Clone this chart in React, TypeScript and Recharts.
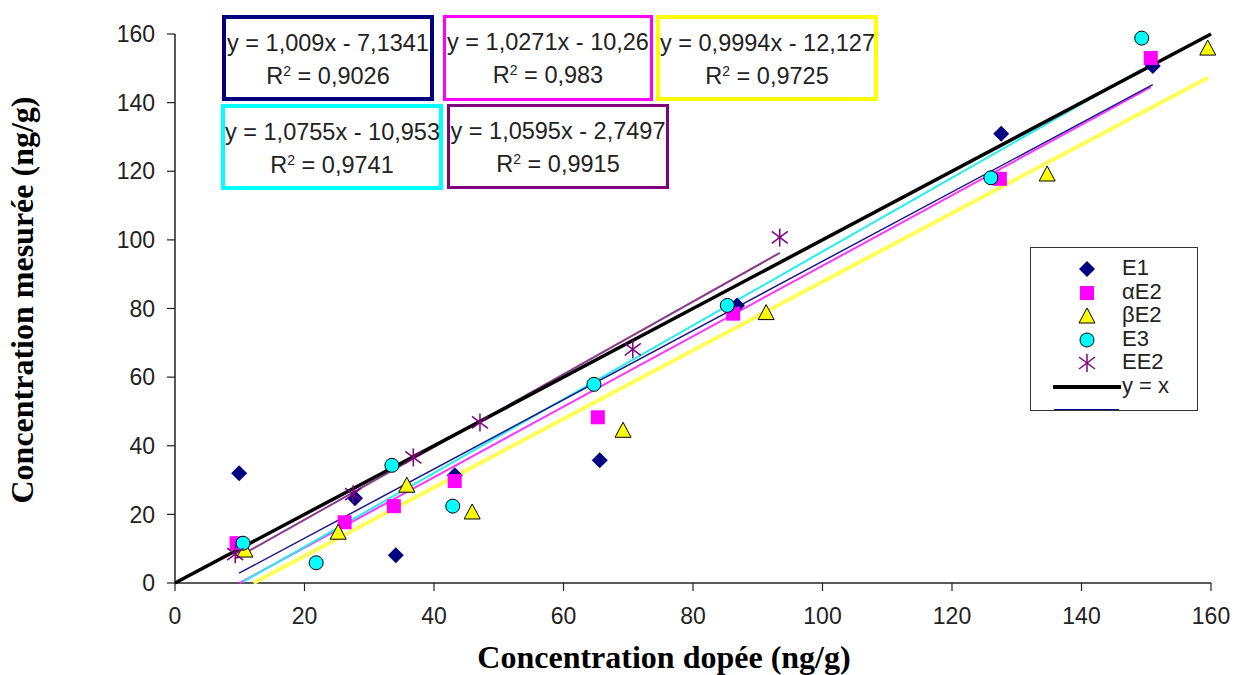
import React from 'react';
import { ScatterChart, Scatter, XAxis, YAxis } from 'recharts';

// axis ticks
const xTicks = [0, 20, 40, 60, 80, 100, 120, 140, 160];
const yTicks = [0, 20, 40, 60, 80, 100, 120, 140, 160];

const e1X = [9.9, 27.8, 34.1, 43.2, 65.6, 86.8, 127.6, 151.0];
const e1Y = [32.0, 24.7, 8.1, 31.4, 35.8, 80.9, 130.9, 150.7];

const ae2X = [9.5, 26.2, 33.8, 43.2, 65.3, 86.2, 127.4, 150.7];
const ae2Y = [11.6, 17.7, 22.4, 29.7, 48.3, 78.5, 117.8, 153.0];

const be2X = [10.8, 25.2, 35.8, 45.9, 69.2, 91.3, 134.7, 159.5];
const be2Y = [9.6, 14.8, 28.5, 20.7, 44.5, 78.8, 119.2, 155.9];

const e3X = [10.5, 21.8, 33.5, 42.9, 64.7, 85.3, 126.0, 149.3];
const e3Y = [11.6, 5.9, 34.3, 22.4, 57.9, 80.9, 118.1, 158.8];

const ee2X = [9.3, 27.5, 36.8, 47.1, 70.7, 93.4];
const ee2Y = [8.4, 25.9, 36.6, 46.8, 68.1, 100.7];

// linear trendlines shown in the boxes
const seriesNames = ['E1', 'αE2', 'βE2', 'E3', 'EE2'];
const slopes = [1.009, 1.0271, 0.9994, 1.0755, 1.0595];
const intercepts = [-7.1341, -10.26, -12.127, -10.953, -2.7497];
const slopeLabels = ['1,009', '1,0271', '0,9994', '1,0755', '1,0595'];
const interceptLabels = ['7,1341', '10,26', '12,127', '10,953', '2,7497'];
const r2Labels = ['0,9026', '0,983', '0,9725', '0,9741', '0,9915'];

const identityX = [0, 160];

const colors = ['#000080', '#FF00FF', '#FFFF00', '#00FFFF', '#800080'];
const trendColors = ['#1a1a8c', '#ff33ff', '#ffff55', '#22eeee', '#8a3c8a'];
const trendWidths = [1.5, 2, 4, 2, 2];

const xsAll = [e1X, ae2X, be2X, e3X, ee2X];
const ysAll = [e1Y, ae2Y, be2Y, e3Y, ee2Y];

const toPoints = (xs: number[], ys: number[]) => xs.map((x, i) => ({ x, y: ys[i] }));

// trendline over the series' x range, cut where it crosses the x axis
const trendData = (i: number) => {
  const xs = xsAll[i];
  const lo = Math.max(Math.min(...xs), -intercepts[i] / slopes[i]);
  const hi = Math.max(...xs);
  return [lo, hi].map((x) => ({ x, y: slopes[i] * x + intercepts[i] }));
};

const Diamond = ({ cx, cy }: any) => (
  <path d={`M${cx},${cy - 8} L${cx + 8},${cy} L${cx},${cy + 8} L${cx - 8},${cy} Z`} fill="#000080" />
);
const Square = ({ cx, cy }: any) => (
  <rect x={cx - 7} y={cy - 7} width={14} height={14} fill="#FF00FF" />
);
const Triangle = ({ cx, cy }: any) => (
  <path d={`M${cx},${cy - 8} L${cx + 8},${cy + 7} L${cx - 8},${cy + 7} Z`} fill="#FFFF00" stroke="#000" strokeWidth={1} />
);
const Circle = ({ cx, cy }: any) => (
  <circle cx={cx} cy={cy} r={7} fill="#00FFFF" stroke="#000" strokeWidth={1} />
);
const Star = ({ cx, cy }: any) => (
  <g stroke="#800080" strokeWidth={1.5}>
    <line x1={cx} y1={cy - 9} x2={cx} y2={cy + 9} />
    <line x1={cx - 8} y1={cy - 6} x2={cx + 8} y2={cy + 6} />
    <line x1={cx - 8} y1={cy + 6} x2={cx + 8} y2={cy - 6} />
  </g>
);
const NoDot = () => <g />;

const shapes = [Diamond, Square, Triangle, Circle, Star];

const eqBoxes = [
  { i: 0, left: 222, top: 15, width: 212, height: 86, border: 4 },
  { i: 1, left: 443, top: 15, width: 210, height: 86, border: 3 },
  { i: 2, left: 656, top: 15, width: 222, height: 86, border: 4 },
  { i: 3, left: 221, top: 104, width: 222, height: 86, border: 4 },
  { i: 4, left: 447, top: 104, width: 222, height: 85, border: 3 },
];

const sans = '"Liberation Sans", Arial, sans-serif';
const serif = '"Liberation Serif", "Times New Roman", serif';

function LegendMarker({ i }: { i: number }) {
  const Shape = shapes[i];
  return (
    <svg width={24} height={22} style={{ position: 'absolute', left: 44, top: 0 }}>
      <Shape cx={12} cy={11} />
    </svg>
  );
}

export default function App() {
  return (
    <div style={{ position: 'absolute', left: 0, top: 0, width: 1235, height: 675, background: '#fff' }}>
      <ScatterChart width={1235} height={675} margin={{ top: 34, right: 24, left: 115, bottom: 42 }}>
        <XAxis
          type="number"
          dataKey="x"
          domain={[0, 160]}
          ticks={xTicks}
          height={50}
          tickSize={8}
          tickMargin={17}
          axisLine={{ stroke: '#222', strokeWidth: 1.5 }}
          tickLine={{ stroke: '#222', strokeWidth: 1.2 }}
          tick={{ fontSize: 23, fill: '#222', fontFamily: sans }}
        />
        <YAxis
          type="number"
          dataKey="y"
          domain={[0, 160]}
          ticks={yTicks}
          width={60}
          tickSize={8}
          tickMargin={12}
          axisLine={{ stroke: '#222', strokeWidth: 1.5 }}
          tickLine={{ stroke: '#222', strokeWidth: 1.2 }}
          tick={{ fontSize: 23, fill: '#222', fontFamily: sans }}
        />
        {[2, 1, 3, 0, 4].map((i) => (
          <Scatter
            key={'trend' + i}
            name={seriesNames[i] + ' trend'}
            data={trendData(i)}
            line={{ stroke: trendColors[i], strokeWidth: trendWidths[i] }}
            shape={NoDot}
            legendType="none"
            isAnimationActive={false}
          />
        ))}
        <Scatter
          name="y = x"
          data={toPoints(identityX, identityX)}
          line={{ stroke: '#000', strokeWidth: 3.5 }}
          shape={NoDot}
          isAnimationActive={false}
        />
        {shapes.map((Shape, i) => (
          <Scatter
            key={seriesNames[i]}
            name={seriesNames[i]}
            data={toPoints(xsAll[i], ysAll[i])}
            fill={colors[i]}
            shape={(p: any) => <Shape cx={p.cx} cy={p.cy} />}
            isAnimationActive={false}
          />
        ))}
      </ScatterChart>

      {eqBoxes.map((b) => (
        <div
          key={b.i}
          style={{
            position: 'absolute',
            left: b.left,
            top: b.top,
            width: b.width,
            height: b.height,
            boxSizing: 'border-box',
            border: `${b.border}px solid ${colors[b.i]}`,
            background: '#fff',
            fontFamily: sans,
            fontSize: 23.5,
            color: '#222',
            textAlign: 'center',
            lineHeight: '33px',
            paddingTop: 8,
            whiteSpace: 'nowrap',
          }}
        >
          <div>y = {slopeLabels[b.i]}x - {interceptLabels[b.i]}</div>
          <div>
            R<sup style={{ fontSize: 14, verticalAlign: 'top', lineHeight: '22px' }}>2</sup> = {r2Labels[b.i]}
          </div>
        </div>
      ))}

      <div
        style={{
          position: 'absolute',
          left: 1030,
          top: 247,
          width: 168,
          height: 164,
          boxSizing: 'border-box',
          border: '1.5px solid #333',
          background: '#fff',
          overflow: 'hidden',
          fontFamily: sans,
          fontSize: 22,
          color: '#222',
        }}
      >
        {seriesNames.map((n, i) => (
          <div key={n} style={{ position: 'absolute', left: 0, top: 10 + i * 23.5, height: 22, width: 160 }}>
            <LegendMarker i={i} />
            <span style={{ position: 'absolute', left: 91, top: -2, lineHeight: '24px' }}>{n}</span>
          </div>
        ))}
        <div style={{ position: 'absolute', left: 22, top: 137, width: 68, height: 4, background: '#000' }} />
        <span style={{ position: 'absolute', left: 91, top: 126, lineHeight: '24px' }}>y = x</span>
        <div style={{ position: 'absolute', left: 23, top: 161, width: 65, height: 3, background: '#000080' }} />
      </div>

      <div
        style={{
          position: 'absolute',
          left: 414,
          top: 639,
          width: 500,
          textAlign: 'center',
          fontFamily: serif,
          fontWeight: 'bold',
          fontSize: 32,
          lineHeight: '36px',
          color: '#000',
        }}
      >
        Concentration dopée (ng/g)
      </div>
      <div
        style={{
          position: 'absolute',
          left: 22 - 250,
          top: 300 - 18,
          width: 500,
          height: 36,
          lineHeight: '36px',
          textAlign: 'center',
          transform: 'rotate(-90deg)',
          fontFamily: serif,
          fontWeight: 'bold',
          fontSize: 32,
          color: '#000',
          whiteSpace: 'nowrap',
        }}
      >
        Concentration mesurée (ng/g)
      </div>
    </div>
  );
}
